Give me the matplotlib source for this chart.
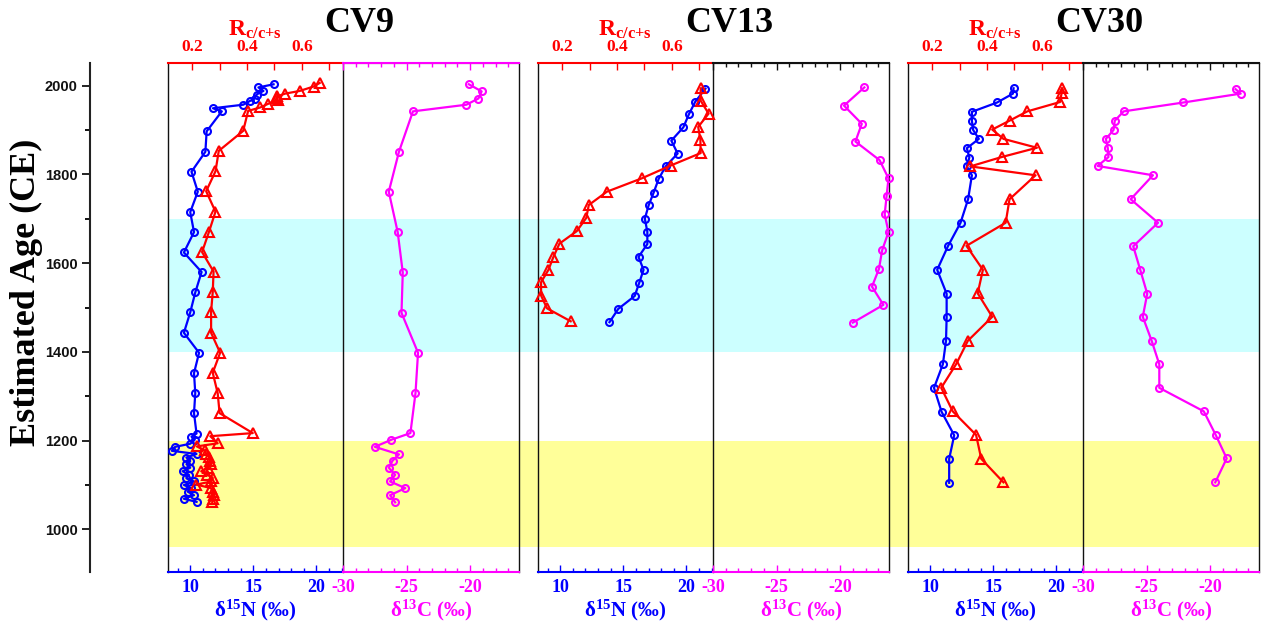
import matplotlib
matplotlib.use("Agg")
import matplotlib.pyplot as plt
from matplotlib.patches import Rectangle
from matplotlib.ticker import MultipleLocator, FixedLocator, NullFormatter
import matplotlib.transforms as mtrans

plt.rcParams['font.family'] = ['Liberation Serif', 'DejaVu Serif']
plt.rcParams['mathtext.fontset'] = 'custom'
plt.rcParams['mathtext.rm'] = 'Liberation Serif:bold'
plt.rcParams['mathtext.bf'] = 'Liberation Serif:bold'
plt.rcParams['mathtext.it'] = 'Liberation Serif:bold:italic'
plt.rcParams['axes.unicode_minus'] = False

# ---------------- data ----------------
cores = ["CV9", "CV13", "CV30"]

# CV9
cv9_n_age = [2003, 1996, 1988, 1980, 1971, 1965, 1957, 1949, 1942, 1897, 1851, 1806, 1761, 1715,
             1670, 1624, 1580, 1534, 1489, 1443, 1398, 1352, 1307, 1262, 1216, 1209, 1202, 1193,
             1186, 1177, 1170, 1162, 1154, 1147, 1139, 1131, 1123, 1115, 1108, 1100, 1093, 1085,
             1077, 1069, 1062]
cv9_n = [16.6, 15.4, 15.8, 15.25, 15.1, 14.7, 14.2, 11.8, 12.5, 11.3, 11.2, 10.1, 10.6, 10.0,
         10.3, 9.5, 10.9, 10.4, 10.0, 9.5, 10.7, 10.3, 10.4, 10.3, 10.5, 10.1, 10.35, 10.0,
         8.8, 8.55, 10.5, 9.7, 10.0, 9.7, 10.0, 9.4, 9.9, 9.7, 10.3, 9.5, 10.1, 9.8,
         10.3, 9.5, 10.5]
cv9_r_age = [2006, 1998, 1988, 1982, 1976, 1972, 1968, 1959, 1951, 1943, 1898, 1853, 1807, 1762,
             1716, 1670, 1625, 1581, 1535, 1491, 1443, 1398, 1353, 1307, 1262, 1217, 1210, 1194,
             1187, 1178, 1171, 1163, 1155, 1147, 1139, 1131, 1123, 1116, 1108, 1101, 1093, 1085,
             1077, 1069, 1062]
cv9_r = [0.665, 0.643, 0.592, 0.539, 0.511, 0.510, 0.512, 0.477, 0.449, 0.404, 0.386, 0.297,
         0.285, 0.251, 0.285, 0.261, 0.236, 0.278, 0.275, 0.269, 0.269, 0.302, 0.275, 0.293,
         0.300, 0.421, 0.266, 0.293, 0.217, 0.245, 0.251, 0.261, 0.266, 0.269, 0.257, 0.233,
         0.255, 0.275, 0.270, 0.215, 0.269, 0.275, 0.281, 0.275, 0.273]
cv9_c_age = [2003, 1987, 1971, 1957, 1942, 1851, 1761, 1670, 1579, 1488, 1398, 1307, 1217, 1202,
             1186, 1169, 1155, 1139, 1123, 1108, 1093, 1077, 1061]
cv9_c = [-20.1, -19.1, -19.35, -20.3, -24.5, -25.6, -26.4, -25.7, -25.3, -25.4, -24.1, -24.3,
         -24.7, -26.2, -27.5, -25.6, -26.1, -26.4, -25.9, -26.3, -25.1, -26.3, -25.9]

# CV13
cv13_n_age = [1993, 1964, 1936, 1906, 1876, 1847, 1818, 1790, 1759, 1730, 1700, 1671, 1643, 1614,
              1585, 1555, 1526, 1497, 1467]
cv13_n = [21.5, 20.7, 20.2, 19.75, 18.8, 19.3, 18.35, 17.8, 17.4, 17.0, 16.7, 16.9, 16.9, 16.2,
          16.6, 16.25, 15.9, 14.6, 13.9]
cv13_r_age = [1994, 1966, 1937, 1907, 1878, 1848, 1820, 1791, 1761, 1731, 1702, 1672, 1644, 1614,
              1585, 1557, 1527, 1498, 1469]
cv13_r = [0.705, 0.705, 0.734, 0.696, 0.704, 0.705, 0.596, 0.490, 0.363, 0.297, 0.288, 0.253,
          0.190, 0.168, 0.150, 0.123, 0.123, 0.145, 0.231]
cv13_c_age = [1996, 1955, 1914, 1874, 1832, 1791, 1751, 1710, 1670, 1629, 1587, 1547, 1506, 1466]
cv13_c = [-18.1, -19.7, -18.3, -18.8, -16.9, -16.2, -16.35, -16.5, -16.2, -16.7, -16.95, -17.5,
          -16.6, -19.0]

# CV30
cv30_n_age = [1994, 1982, 1962, 1941, 1921, 1900, 1880, 1859, 1838, 1818, 1798, 1744, 1691, 1638,
              1585, 1531, 1478, 1425, 1372, 1319, 1265, 1212, 1159, 1105]
cv30_n = [16.6, 16.55, 15.3, 13.3, 13.3, 13.4, 13.85, 12.9, 13.1, 12.9, 13.3, 13.0, 12.4, 11.4,
          10.55, 11.3, 11.3, 11.25, 11.0, 10.3, 10.9, 11.9, 11.5, 11.5]
cv30_r_age = [1994, 1983, 1963, 1942, 1921, 1901, 1880, 1860, 1839, 1818, 1798, 1744, 1691, 1639,
              1585, 1532, 1479, 1425, 1373, 1319, 1266, 1213, 1159, 1106]
cv30_r = [0.674, 0.672, 0.666, 0.547, 0.482, 0.419, 0.460, 0.582, 0.453, 0.339, 0.577, 0.482,
          0.468, 0.325, 0.385, 0.366, 0.419, 0.330, 0.288, 0.233, 0.275, 0.360, 0.379, 0.460]
cv30_c_age = [1992, 1982, 1962, 1942, 1921, 1900, 1880, 1859, 1839, 1819, 1798, 1744, 1691, 1638,
              1585, 1531, 1479, 1425, 1372, 1319, 1266, 1212, 1160, 1106]
cv30_c = [-18.0, -17.6, -22.1, -26.8, -27.5, -27.6, -28.2, -28.05, -28.0, -28.85, -24.5, -26.25,
          -24.1, -26.05, -25.5, -24.95, -25.3, -24.6, -24.0, -24.0, -20.5, -19.55, -18.7, -19.6]

# shaded periods (CE)
cyan_period = (1400, 1700)
yellow_period = (960, 1200)

age_ticks = [1000, 1200, 1400, 1600, 1800, 2000]
n_ticks = [10, 15, 20]
c_ticks = [-30, -25, -20]
r_ticks = [0.2, 0.4, 0.6]

core_data = {
    "CV9": (cv9_n_age, cv9_n, cv9_r_age, cv9_r, cv9_c_age, cv9_c),
    "CV13": (cv13_n_age, cv13_n, cv13_r_age, cv13_r, cv13_c_age, cv13_c),
    "CV30": (cv30_n_age, cv30_n, cv30_r_age, cv30_r, cv30_c_age, cv30_c),
}

# ---------------- layout ----------------
W, H = 1269, 629
fig = plt.figure(figsize=(W / 100, H / 100), dpi=100)

ylim = (904, 2051)
top_px, bot_px = 63, 572
b = 1 - bot_px / H
h = (bot_px - top_px) / H
panel_w = 175.5 / W
lefts_px = [167.5, 537.5, 907.5]

BLUE = '#0000ff'
RED = '#ff0000'
MAG = '#ff00ff'

# y axis
ax_y = fig.add_axes([90 / W, b, 0.0005, h])
ax_y.set_ylim(*ylim)
ax_y.set_facecolor('none')
for s in ['top', 'right', 'bottom']:
    ax_y.spines[s].set_visible(False)
ax_y.spines['left'].set_linewidth(1.5)
ax_y.spines['left'].set_color('#222222')
ax_y.set_xticks([])
ax_y.yaxis.set_major_locator(FixedLocator(age_ticks))
ax_y.yaxis.set_minor_locator(MultipleLocator(100))
ax_y.tick_params(axis='y', which='major', direction='out', length=6, width=1.3, pad=3,
                 colors='#111111')
ax_y.tick_params(axis='y', which='minor', direction='out', length=3.5, width=1.3)
for lab in ax_y.get_yticklabels():
    lab.set_fontfamily('Liberation Sans')
    lab.set_fontweight('bold')
    lab.set_fontsize(10.5)
fig.text(26 / W, 1 - 292 / H, 'Estimated Age (CE)', rotation=90, ha='center', va='center',
         fontsize=26, fontweight='bold', fontfamily='Liberation Serif')

# background bands
trans = mtrans.blended_transform_factory(fig.transFigure, ax_y.transData)
x0f = 167.5 / W
x1f = 1259 / W
fig.patches.append(Rectangle((x0f, cyan_period[0]), x1f - x0f, cyan_period[1] - cyan_period[0],
                             transform=trans, facecolor='#ccffff', edgecolor='none', zorder=-5))
fig.patches.append(Rectangle((x0f, yellow_period[0]), x1f - x0f,
                             yellow_period[1] - yellow_period[0],
                             transform=trans, facecolor='#ffff99', edgecolor='none', zorder=-5))


def style_ticklabels(ax, axis, color, size):
    labs = ax.get_xticklabels() if axis == 'x' else ax.get_yticklabels()
    for lab in labs:
        lab.set_fontweight('bold')
        lab.set_fontsize(size)
        lab.set_color(color)
        lab.set_fontfamily('Liberation Serif')


for i, core in enumerate(cores):
    n_age, n_val, r_age, r_val, c_age, c_val = core_data[core]
    lx = lefts_px[i] / W
    ax_l = fig.add_axes([lx, b, panel_w, h])
    ax_r = fig.add_axes([lx + panel_w, b, panel_w, h])
    for ax in (ax_l, ax_r):
        ax.set_facecolor('none')
        ax.set_ylim(*ylim)
        ax.set_yticks([])
        for s in ['left', 'right']:
            ax.spines[s].set_color('#111111')
            ax.spines[s].set_linewidth(1.0)
    ax_r.spines['left'].set_visible(False)

    # left: d15N bottom
    ax_l.set_xlim(8.2, 22.1)
    ax_l.spines['bottom'].set_color(BLUE)
    ax_l.spines['bottom'].set_linewidth(1.5)
    ax_l.spines['top'].set_visible(False)
    ax_l.xaxis.set_major_locator(FixedLocator(n_ticks))
    ax_l.xaxis.set_minor_locator(MultipleLocator(1))
    ax_l.tick_params(axis='x', which='major', direction='in', length=5, width=1.0, color=BLUE,
                     pad=5)
    ax_l.tick_params(axis='x', which='minor', direction='in', length=2.8, width=1.0, color=BLUE)
    style_ticklabels(ax_l, 'x', BLUE, 13)
    ax_l.plot(n_val, n_age, color=BLUE, lw=1.6, marker='o', ms=5, mfc='none', mew=1.5,
              mec=BLUE, zorder=3, clip_on=False)
    ax_l.set_xlabel('δ$^{15}$N (‰)', color=BLUE, fontsize=15, fontweight='bold', labelpad=1)

    # left top: Rc/c+s
    ax_t = ax_l.twiny()
    ax_t.set_facecolor('none')
    ax_t.set_xlim(0.11, 0.75)
    ax_t.set_ylim(*ylim)
    for s in ['left', 'right', 'bottom']:
        ax_t.spines[s].set_visible(False)
    ax_t.spines['top'].set_color(RED)
    ax_t.spines['top'].set_linewidth(1.5)
    ax_t.xaxis.set_major_locator(FixedLocator(r_ticks))
    ax_t.xaxis.set_minor_locator(FixedLocator([0.3, 0.5, 0.7]))
    ax_t.tick_params(axis='x', which='both', direction='in', length=5, width=1.0, color=RED,
                     pad=6)
    style_ticklabels(ax_t, 'x', RED, 12.5)
    ax_t.plot(r_val, r_age, color=RED, lw=1.6, marker='^', ms=7, mfc='none', mew=1.5,
              mec=RED, zorder=3, clip_on=False)

    # right: d13C
    ax_r.set_xlim(-30, -16.2)
    ax_r.spines['bottom'].set_color(MAG)
    ax_r.spines['bottom'].set_linewidth(1.5)
    ax_r.xaxis.set_major_locator(FixedLocator(c_ticks))
    ax_r.xaxis.set_minor_locator(MultipleLocator(1))
    ax_r.tick_params(axis='x', which='major', direction='in', length=5, width=1.0, color=MAG,
                     pad=5)
    ax_r.tick_params(axis='x', which='minor', direction='in', length=2.8, width=1.0, color=MAG)
    style_ticklabels(ax_r, 'x', MAG, 13)
    ax_r.plot(c_val, c_age, color=MAG, lw=1.6, marker='o', ms=5, mfc='none', mew=1.5,
              mec=MAG, zorder=3, clip_on=False)
    ax_r.set_xlabel('δ$^{13}$C (‰)', color=MAG, fontsize=15, fontweight='bold', labelpad=1)

    top_col = MAG if i == 0 else '#111111'
    ax_rt = ax_r.twiny()
    ax_rt.set_facecolor('none')
    ax_rt.set_xlim(-30, -16.2)
    ax_rt.set_ylim(*ylim)
    for s in ['left', 'right', 'bottom']:
        ax_rt.spines[s].set_visible(False)
    ax_rt.spines['top'].set_color(top_col)
    ax_rt.spines['top'].set_linewidth(1.5)
    ax_rt.xaxis.set_major_locator(FixedLocator(c_ticks))
    ax_rt.xaxis.set_minor_locator(MultipleLocator(1))
    ax_rt.xaxis.set_major_formatter(NullFormatter())
    ax_rt.tick_params(axis='x', which='major', direction='in', length=5, width=1.0,
                      color=top_col)
    ax_rt.tick_params(axis='x', which='minor', direction='in', length=2.8, width=1.0,
                      color=top_col)

    # titles
    fig.text((lefts_px[i] + 192) / W, 1 - 24 / H, core, ha='center', va='center',
             fontsize=26, fontweight='bold', fontfamily='Liberation Serif')
    fig.text((lefts_px[i] + 87) / W, 1 - 30 / H, r'$\mathbf{R_{c/c{+}s}}$', ha='center',
             va='center', fontsize=17, color=RED)

fig.savefig('out.png', dpi=100)
